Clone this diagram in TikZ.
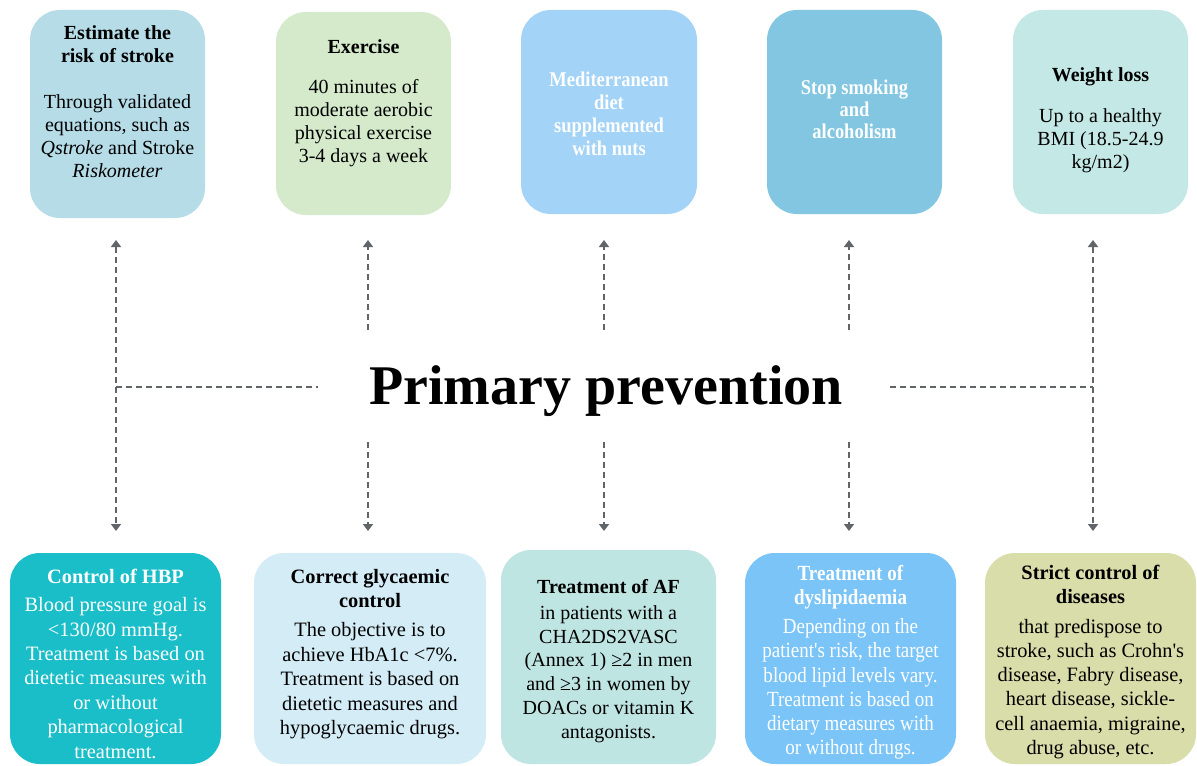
\documentclass[tikz,border=0pt]{standalone}
\usepackage{fontspec}
\setmainfont{Liberation Serif}
\newfontfamily\condfont[FakeStretch=0.88]{Liberation Serif}
\newfontfamily\plainserif{Liberation Serif}
\usetikzlibrary{arrows.meta}
\definecolor{cEst}{HTML}{B6DCE7}
\definecolor{cExe}{HTML}{D4EACB}
\definecolor{cMed}{HTML}{A3D3F6}
\definecolor{cSmo}{HTML}{82C6E1}
\definecolor{cWei}{HTML}{C3E8E5}
\definecolor{cHBP}{HTML}{19BEC8}
\definecolor{cGly}{HTML}{D4ECF6}
\definecolor{cAF}{HTML}{BFE5E3}
\definecolor{cDys}{HTML}{7AC4F8}
\definecolor{cStr}{HTML}{D9DDA9}
\definecolor{lineg}{HTML}{60656A}
\begin{document}
\begin{tikzpicture}[x=0.5pt,y=-0.5pt,
  box/.style={rounded corners=15pt, inner sep=0pt, draw=none},
  toptxt/.style={anchor=north, align=center, inner sep=0pt, font=\fontsize{10}{11.5}\selectfont, text=black},
  bottxt/.style={anchor=north, align=center, inner sep=0pt, font=\fontsize{10.2}{12.2}\selectfont, text=black},
  conn/.style={draw=lineg, line width=1pt, dash pattern=on 3pt off 2pt},
  tipend/.style={-{Triangle[length=3.5pt,width=5pt]}},
  tipboth/.style={{Triangle[length=3.5pt,width=5pt]}-{Triangle[length=3.5pt,width=5pt]}}
]
\useasboundingbox (0,0) rectangle (1197,765);
\fill[white] (0,0) rectangle (1197,765);

% top boxes
\node[box, fill=cEst, minimum width=87.5pt, minimum height=104pt] (t1) at (117.5,114) {};
\node[box, fill=cExe, minimum width=87.5pt, minimum height=101.5pt] (t2) at (363.5,113.5) {};
\node[box, fill=cMed, minimum width=88pt, minimum height=102pt] (t3) at (609,112) {};
\node[box, fill=cSmo, minimum width=87.5pt, minimum height=102pt] (t4) at (854.5,112) {};
\node[box, fill=cWei, minimum width=87.5pt, minimum height=102pt] (t5) at (1100.5,112) {};

\node[toptxt] (t1x) at (117.5,25) {\textbf{Estimate the}\\\textbf{risk of stroke}\\[11.5pt]Through validated\\equations, such as\\\textit{Qstroke} and Stroke\\\textit{Riskometer}};
\node[toptxt] (t2x) at (363.5,39) {\textbf{Exercise}\\[8.5pt]40 minutes of\\moderate aerobic\\physical exercise\\3-4 days a week};
\node[toptxt, text=white, font=\condfont\bfseries\fontsize{10.5}{11.4}\selectfont] (t3x) at (609,72) {Mediterranean\\diet\\supplemented\\with nuts};
\node[toptxt, text=white, font=\condfont\bfseries\fontsize{10.5}{11}\selectfont] (t4x) at (854.5,80) {Stop smoking\\and\\alcoholism};
\node[toptxt] (t5x) at (1100.5,67) {\textbf{Weight loss}\\[9pt]Up to a healthy\\BMI (18.5-24.9\\kg/m2)};

% bottom boxes
\node[box, fill=cHBP, minimum width=105.5pt, minimum height=105.5pt] (b1) at (115.5,658.5) {};
\node[box, fill=cGly, minimum width=116pt, minimum height=105.5pt] (b2) at (370,658.5) {};
\node[box, fill=cAF, minimum width=107.5pt, minimum height=107pt] (b3) at (608.5,657) {};
\node[box, fill=cDys, minimum width=105.5pt, minimum height=105.5pt] (b4) at (850.5,658.5) {};
\node[box, fill=cStr, minimum width=105.5pt, minimum height=105.5pt] (b5) at (1090.5,658.5) {};

\node[bottxt, text=white] (b1x) at (115.5,569) {\textbf{Control of HBP}\\[1.8pt]Blood pressure goal is\\<130/80 mmHg.\\Treatment is based on\\dietetic measures with\\or without\\pharmacological\\treatment.};
\node[bottxt] (b2x) at (370,569) {\textbf{Correct glycaemic}\\\textbf{control}\\[2.3pt]The objective is to\\achieve HbA1c <7\%.\\Treatment is based on\\dietetic measures and\\hypoglycaemic drugs.};
\node[bottxt, font=\fontsize{10}{11.9}\selectfont] (b3x) at (608.5,579) {\textbf{Treatment of AF}\\[1pt]in patients with a\\CHA2DS2VASC\\(Annex 1) ≥2 in men\\and ≥3 in women by\\DOACs or vitamin K\\antagonists.};
\node[bottxt, text=white, font=\condfont\fontsize{10.8}{12.1}\selectfont] (b4x) at (850.5,565) {\textbf{Treatment of}\\\textbf{dyslipidaemia}\\[2.3pt]Depending on the\\patient's risk, the target\\blood lipid levels vary.\\Treatment is based on\\dietary measures with\\or without drugs.};
\node[bottxt, font=\plainserif\fontsize{10.2}{12.1}\selectfont] (b5x) at (1090.5,565) {\textbf{Strict control of}\\\textbf{diseases}\\[2.6pt]that predispose to\\stroke, such as Crohn's\\disease, Fabry disease,\\heart disease, sickle-\\cell anaemia, migraine,\\drug abuse, etc.};

% title
\node[anchor=base, inner sep=0pt, font=\bfseries\fontsize{28}{30}\selectfont] (title) at (606,404) {Primary prevention};

% connector coordinates
\coordinate (l1t) at (116,240); \coordinate (l1b) at (116,531); \coordinate (l1m) at (116,387); \coordinate (l1h) at (318,387);
\coordinate (l2t) at (368,240); \coordinate (l2u) at (368,330); \coordinate (l2d) at (368,442); \coordinate (l2b) at (368,531);
\coordinate (l3t) at (604,240); \coordinate (l3u) at (604,330); \coordinate (l3d) at (604,442); \coordinate (l3b) at (604,531);
\coordinate (l4t) at (849,240); \coordinate (l4u) at (849,330); \coordinate (l4d) at (849,442); \coordinate (l4b) at (849,531);
\coordinate (l5t) at (1093,240); \coordinate (l5b) at (1093,531); \coordinate (l5m) at (1093,387); \coordinate (l5h) at (890,387);

\draw[conn, tipboth] (l1t) -- (l1b);
\draw[conn] (l1m) -- (l1h);
\draw[conn, tipend] (l2u) -- (l2t);
\draw[conn, tipend] (l2d) -- (l2b);
\draw[conn, tipend] (l3u) -- (l3t);
\draw[conn, tipend] (l3d) -- (l3b);
\draw[conn, tipend] (l4u) -- (l4t);
\draw[conn, tipend] (l4d) -- (l4b);
\draw[conn, tipboth] (l5t) -- (l5b);
\draw[conn] (l5h) -- (l5m);
\end{tikzpicture}
\end{document}
